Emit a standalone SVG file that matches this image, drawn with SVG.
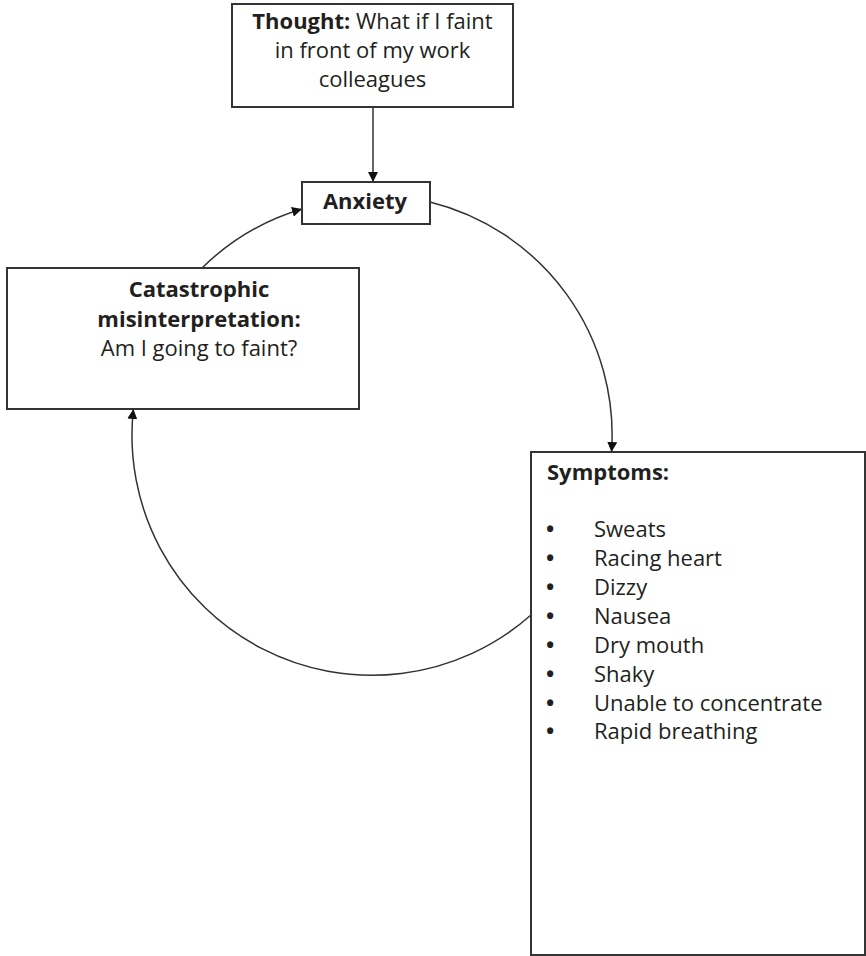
<svg xmlns="http://www.w3.org/2000/svg" width="866" height="956" viewBox="0 0 866 956">
<style>
.box{fill:#fff;stroke:#333;stroke-width:2}
.t{font-family:"Open Sans","Noto Sans","Liberation Sans",sans-serif;font-size:22px;fill:#231f20}
.b{font-weight:bold}
.c{text-anchor:middle}
.bul{font-weight:bold}
.con{fill:none;stroke:#333;stroke-width:1.5}
</style>
<defs>
<marker id="ah" viewBox="0 0 10 10" refX="10" refY="5" markerWidth="10" markerHeight="10" markerUnits="userSpaceOnUse" orient="auto">
<path d="M0,0 L10,5 L0,10 z" fill="#111"/>
</marker>
</defs>
<rect width="866" height="956" fill="#fff"/>
<g id="connectors">
<line class="con" x1="373" y1="107" x2="373" y2="182" marker-end="url(#ah)"/>
<path class="con" d="M202 268 A240 240 0 0 1 302 209" marker-end="url(#ah)"/>
<path class="con" d="M430 202 A240 240 0 0 1 611.5 452" marker-end="url(#ah)"/>
<path class="con" d="M531 615 A240 240 0 0 1 133.4 409" marker-end="url(#ah)"/>
</g>
<g id="thought">
<rect class="box" x="232" y="4" width="281" height="103"/>
<text class="t c" x="372.5" y="29"><tspan class="b">Thought:</tspan> What if I faint</text>
<text class="t c" x="372.5" y="58">in front of my work</text>
<text class="t c" x="372.5" y="87">colleagues</text>
</g>
<g id="anxiety">
<rect class="box" x="302" y="182" width="128" height="42"/>
<text class="t c b" x="365" y="209">Anxiety</text>
</g>
<g id="catastrophic">
<rect class="box" x="7" y="268" width="352" height="141"/>
<text class="t c b" x="199" y="297">Catastrophic</text>
<text class="t c b" x="199" y="327">misinterpretation:</text>
<text class="t c" x="199" y="356">Am I going to faint?</text>
</g>
<g id="symptoms">
<rect class="box" x="531" y="452" width="334" height="503"/>
<text class="t b" x="547" y="480">Symptoms:</text>
<text class="t" x="546" y="537"><tspan class="bul">•</tspan><tspan x="594">Sweats</tspan></text>
<text class="t" x="546" y="566"><tspan class="bul">•</tspan><tspan x="594">Racing heart</tspan></text>
<text class="t" x="546" y="595"><tspan class="bul">•</tspan><tspan x="594">Dizzy</tspan></text>
<text class="t" x="546" y="624"><tspan class="bul">•</tspan><tspan x="594">Nausea</tspan></text>
<text class="t" x="546" y="653"><tspan class="bul">•</tspan><tspan x="594">Dry mouth</tspan></text>
<text class="t" x="546" y="682"><tspan class="bul">•</tspan><tspan x="594">Shaky</tspan></text>
<text class="t" x="546" y="711"><tspan class="bul">•</tspan><tspan x="594">Unable to concentrate</tspan></text>
<text class="t" x="546" y="739"><tspan class="bul">•</tspan><tspan x="594">Rapid breathing</tspan></text>
</g>
</svg>
